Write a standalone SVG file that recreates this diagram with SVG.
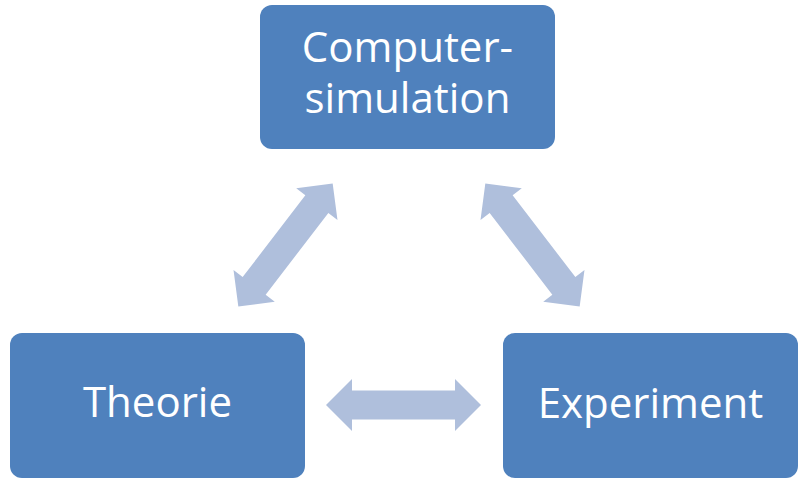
<svg xmlns="http://www.w3.org/2000/svg" width="800" height="486" viewBox="0 0 800 486">
<style>
.box{fill:#4F81BD}
.lbl{fill:#FFFFFF;font-family:"Open Sans","Liberation Sans",sans-serif;font-size:42px;text-anchor:middle}
.arr{fill:#AFBFDC}
</style>
<defs>
<path id="dbl" d="M-77.5,0 L-51.5,-26 L-51.5,-14.5 L51.5,-14.5 L51.5,-26 L77.5,0 L51.5,26 L51.5,14.5 L-51.5,14.5 L-51.5,26 Z"/>
</defs>
<rect width="800" height="486" fill="#FFFFFF"/>
<g id="connectors">
<use href="#dbl" class="arr" transform="translate(285.5,245) rotate(-52.5)"/>
<use href="#dbl" class="arr" transform="translate(532.5,245) rotate(52.5)"/>
<use href="#dbl" class="arr" transform="translate(403.5,405)"/>
</g>
<g id="computersimulation">
<rect class="box" x="260" y="5" width="295" height="144" rx="12"/>
<text class="lbl"><tspan x="407.5" y="62">Computer-</tspan><tspan x="407.5" y="113">simulation</tspan></text>
</g>
<g id="theorie">
<rect class="box" x="10" y="333" width="295" height="145" rx="12"/>
<text class="lbl" x="157.5" y="417">Theorie</text>
</g>
<g id="experiment">
<rect class="box" x="503" y="333" width="295" height="145" rx="12"/>
<text class="lbl" x="650.5" y="418">Experiment</text>
</g>
</svg>
